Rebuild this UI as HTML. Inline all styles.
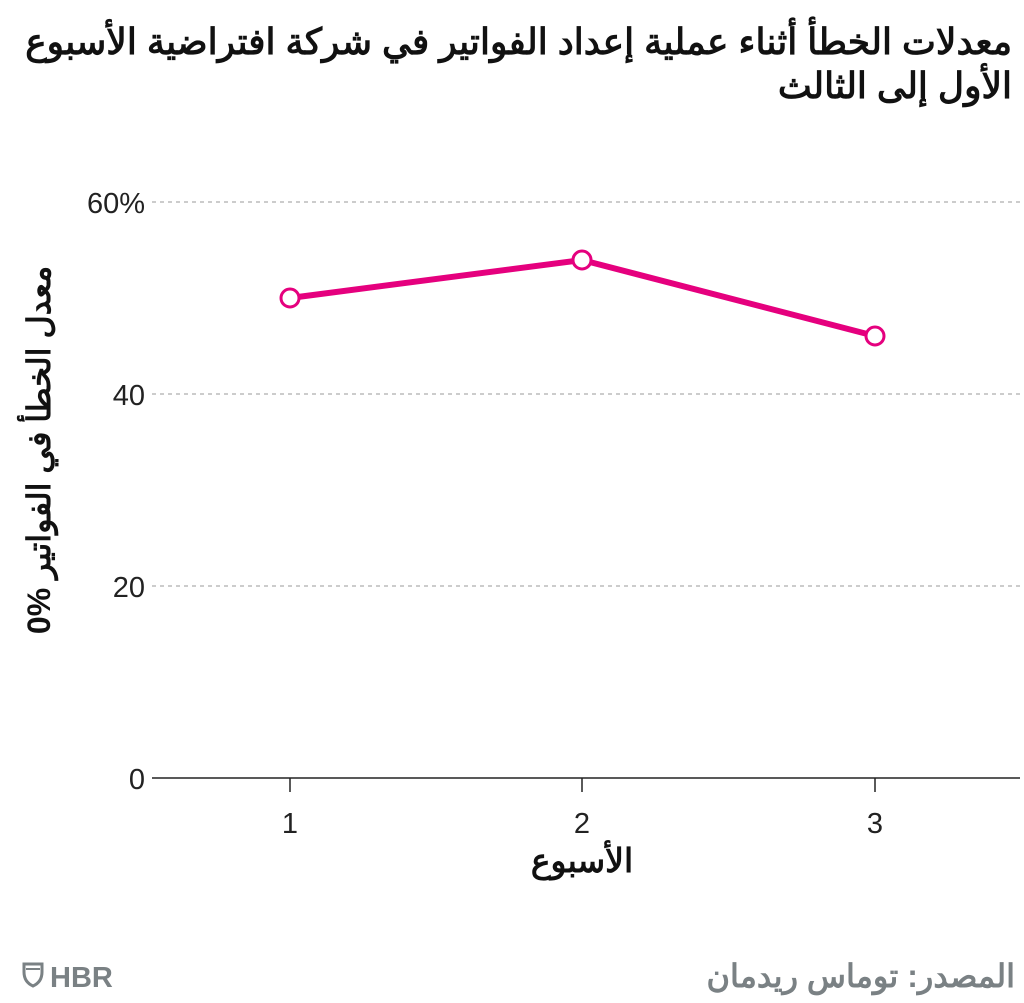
<!DOCTYPE html>
<html><head><meta charset="utf-8"><style>
body{margin:0;width:1024px;height:998px;background:#fff;overflow:hidden}
</style></head><body>
<svg width="1024" height="998" xmlns="http://www.w3.org/2000/svg" font-family="Liberation Sans, 'Noto Sans CJK SC', sans-serif">
<text x="1012" y="54" text-anchor="start" font-size="36" font-weight="bold" fill="#111" direction="rtl">معدلات الخطأ أثناء عملية إعداد الفواتير في شركة افتراضية الأسبوع</text>
<text x="1012" y="98" text-anchor="start" font-size="36" font-weight="bold" fill="#111" direction="rtl">الأول إلى الثالث</text>
<g stroke="#999" stroke-dasharray="4,4" stroke-width="1">
<line x1="152" y1="202" x2="1020" y2="202"/>
<line x1="152" y1="394" x2="1020" y2="394"/>
<line x1="152" y1="586" x2="1020" y2="586"/>
</g>
<line x1="152" y1="778" x2="1020" y2="778" stroke="#222" stroke-width="1.5"/>
<g stroke="#222" stroke-width="1.5">
<line x1="290" y1="778" x2="290" y2="792"/><line x1="582" y1="778" x2="582" y2="792"/><line x1="875" y1="778" x2="875" y2="792"/>
</g>
<g font-size="29" fill="#222" text-anchor="end">
<text x="145" y="213">60%</text><text x="145" y="405">40</text><text x="145" y="597">20</text><text x="145" y="789">0</text>
</g>
<g font-size="29" fill="#222" text-anchor="middle">
<text x="290" y="833">1</text><text x="582" y="833">2</text><text x="875" y="833">3</text>
</g>
<text x="582" y="872" text-anchor="middle" font-size="33" font-weight="bold" fill="#111">الأسبوع</text>
<text transform="translate(50,450) rotate(-90)" text-anchor="middle" font-size="32" font-weight="bold" fill="#111" direction="rtl">معدل الخطأ في الفواتير %0</text>
<polyline points="290,298 582,260 875,336" fill="none" stroke="#e5007e" stroke-width="6"/>
<g fill="#fff" stroke="#e5007e" stroke-width="3">
<circle cx="290" cy="298" r="9"/><circle cx="582" cy="260" r="9"/><circle cx="875" cy="336" r="9"/>
</g>
<path d="M24 964 H42 V972 Q42 982 33 986 Q24 982 24 972 Z" fill="none" stroke="#7a8184" stroke-width="3"/>
<line x1="26" y1="969" x2="40" y2="969" stroke="#7a8184" stroke-width="2"/>
<text x="50" y="987" font-size="29" font-weight="bold" fill="#7a8184">HBR</text>
<text x="1015" y="987" text-anchor="start" font-size="32" font-weight="bold" fill="#7a8184" direction="rtl">المصدر: توماس ريدمان</text>
</svg>
</body></html>
